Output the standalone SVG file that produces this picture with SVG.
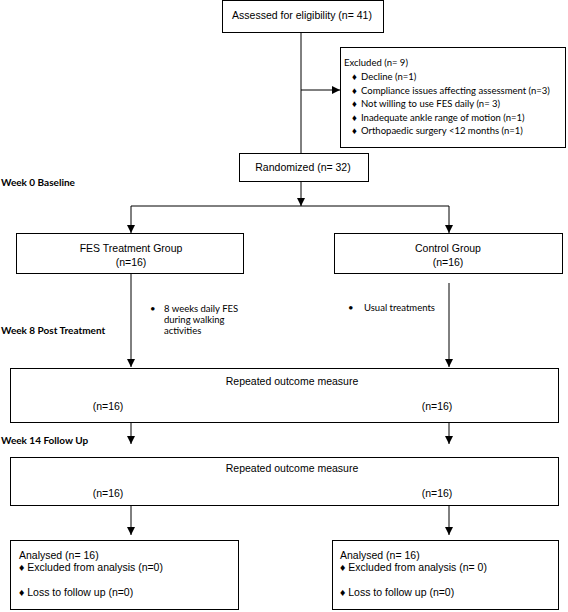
<svg xmlns="http://www.w3.org/2000/svg" width="568" height="612" viewBox="0 0 568 612">
<defs>
<marker id="ah" markerWidth="8" markerHeight="8" refX="8" refY="4" orient="auto" markerUnits="userSpaceOnUse">
<path d="M0,0 L8,4 L0,8 Z" fill="#000"/>
</marker>
<style>
.box{fill:#fff;stroke:#000;stroke-width:1}
.ln{fill:none;stroke:#000;stroke-width:1}
.ar{fill:none;stroke:#000;stroke-width:1;marker-end:url(#ah)}
.a{font-family:"Liberation Sans",Arial,sans-serif;font-size:10.5px;fill:#000}
.c{font-family:Lato,"Open Sans",sans-serif;font-size:9.5px;fill:#000}
.wk{font-family:Lato,"Open Sans",sans-serif;font-size:10px;font-weight:bold;fill:#000}
.m{text-anchor:middle}
</style>
</defs>
<rect width="568" height="612" fill="#fff"/>
<g id="connectors">
<line class="ln" x1="301" y1="33" x2="301" y2="153"/>
<line class="ar" x1="301" y1="90" x2="340" y2="90"/>
<line class="ar" x1="301" y1="182" x2="301" y2="206"/>
<line class="ln" x1="131" y1="206" x2="449" y2="206"/>
<line class="ar" x1="131" y1="206" x2="131" y2="233"/>
<line class="ar" x1="449" y1="206" x2="449" y2="233"/>
<line class="ar" x1="131" y1="274" x2="131" y2="367"/>
<line class="ar" x1="449" y1="283" x2="449" y2="367"/>
<line class="ar" x1="131" y1="423" x2="131" y2="444"/>
<line class="ar" x1="449" y1="423" x2="449" y2="444"/>
<line class="ar" x1="131" y1="506" x2="131" y2="535"/>
<line class="ar" x1="449" y1="506" x2="449" y2="535"/>
</g>
<g id="assessed">
<rect class="box" x="222.5" y="0.5" width="161" height="32"/>
<text class="a m" x="302" y="19">Assessed for eligibility (n= 41)</text>
</g>
<g id="excluded">
<rect class="box" x="340.5" y="47.5" width="225" height="100"/>
<text class="c" x="344" y="66">Excluded  (n= 9)</text>
<text class="c" x="352" y="80">♦</text><text class="c" x="361" y="80">Decline (n=1)</text>
<text class="c" x="352" y="94">♦</text><text class="c" x="361" y="94">Compliance issues affecting assessment (n=3)</text>
<text class="c" x="352" y="107">♦</text><text class="c" x="361" y="107">Not willing to use FES daily (n= 3)</text>
<text class="c" x="352" y="121">♦</text><text class="c" x="361" y="121">Inadequate ankle range of motion (n=1)</text>
<text class="c" x="352" y="134">♦</text><text class="c" x="361" y="134">Orthopaedic surgery &lt;12 months (n=1)</text>
</g>
<g id="randomized">
<rect class="box" x="239.5" y="153.5" width="129" height="28"/>
<text class="a m" x="303" y="171">Randomized (n= 32)</text>
</g>
<text class="wk" x="1" y="186">Week 0 Baseline</text>
<g id="fes">
<rect class="box" x="16.5" y="233.5" width="227" height="40"/>
<text class="a m" x="131" y="252">FES Treatment Group</text>
<text class="a m" x="131" y="266">(n=16)</text>
</g>
<g id="control">
<rect class="box" x="334.5" y="233.5" width="228" height="40"/>
<text class="a m" x="448" y="252">Control Group</text>
<text class="a m" x="448" y="266">(n=16)</text>
</g>
<g id="fes-note">
<text class="c" x="150" y="312">•</text>
<text class="c" x="164" y="312">8 weeks daily FES</text>
<text class="c" x="164" y="323">during walking</text>
<text class="c" x="164" y="334">activities</text>
</g>
<g id="control-note">
<text class="c" x="348" y="311">•</text>
<text class="c" x="364" y="311">Usual treatments</text>
</g>
<text class="wk" x="1" y="334">Week 8 Post Treatment</text>
<g id="post">
<rect class="box" x="10.5" y="368.5" width="548" height="54"/>
<text class="a m" x="292" y="385">Repeated outcome measure</text>
<text class="a m" x="108" y="410">(n=16)</text>
<text class="a m" x="437" y="410">(n=16)</text>
</g>
<text class="wk" x="1" y="444">Week 14 Follow Up</text>
<g id="followup">
<rect class="box" x="10.5" y="457.5" width="548" height="48"/>
<text class="a m" x="292" y="472">Repeated outcome measure</text>
<text class="a m" x="108" y="497">(n=16)</text>
<text class="a m" x="437" y="497">(n=16)</text>
</g>
<g id="analysed-fes">
<rect class="box" x="10.5" y="540.5" width="228" height="69"/>
<text class="a" x="19" y="559">Analysed  (n= 16)</text>
<text class="a" x="19" y="571">♦ Excluded from analysis (n=0)</text>
<text class="a" x="19" y="596">♦ Loss to follow up (n=0)</text>
</g>
<g id="analysed-control">
<rect class="box" x="332.5" y="540.5" width="226" height="69"/>
<text class="a" x="340" y="559">Analysed  (n= 16)</text>
<text class="a" x="340" y="571">♦ Excluded from analysis (n= 0)</text>
<text class="a" x="340" y="596">♦ Loss to follow up (n=0)</text>
</g>
</svg>
